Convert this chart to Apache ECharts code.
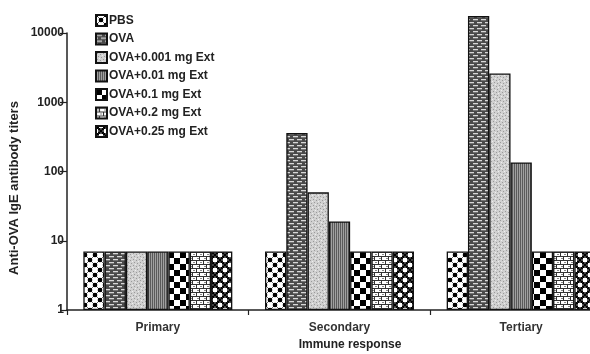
<!DOCTYPE html>
<html><head><meta charset="utf-8">
<script src="https://cdn.jsdelivr.net/npm/echarts@6/dist/echarts.min.js"></script>
<style>html,body{margin:0;padding:0;background:#fff}#c{width:590px;height:354px}</style>
</head><body><div id="c"></div>
<script>
var categories = ['Primary', 'Secondary', 'Tertiary'];
var seriesNames = ['PBS', 'OVA', 'OVA+0.001 mg Ext', 'OVA+0.01 mg Ext', 'OVA+0.1 mg Ext', 'OVA+0.2 mg Ext', 'OVA+0.25 mg Ext'];
var pbs = [7, 7, 7];
var ova = [7, 360, 17600];
var ext0001 = [7, 50, 2600];
var ext001 = [7, 19, 135];
var ext01 = [7, 7, 7];
var ext02 = [7, 7, 7];
var ext025 = [7, 7, 7];
var yTicks = [1, 10, 100, 1000, 10000];

function tile(w, h, draw) {
  var c = document.createElement('canvas'); c.width = w; c.height = h;
  var g = c.getContext('2d'); draw(g, w, h);
  return { image: c, repeat: 'repeat' };
}
var patterns = [
  tile(10, 10, function (g) { // PBS: dots with lattice
    g.fillStyle = '#fff'; g.fillRect(0, 0, 10, 10);
    g.strokeStyle = '#444'; g.lineWidth = 1;
    g.beginPath(); g.moveTo(0, 0); g.lineTo(10, 10); g.moveTo(10, 0); g.lineTo(0, 10); g.stroke();
    g.fillStyle = '#fff';
    [[5, 0], [0, 5], [10, 5], [5, 10]].forEach(function (p) { g.beginPath(); g.arc(p[0], p[1], 3, 0, 7); g.fill(); });
    g.fillStyle = '#000';
    [[0, 0], [10, 0], [0, 10], [10, 10], [5, 5]].forEach(function (p) { g.beginPath(); g.arc(p[0], p[1], 2.3, 0, 7); g.fill(); });
  }),
  tile(8, 6, function (g) { // OVA: bricks
    g.fillStyle = '#4a4a4a'; g.fillRect(0, 0, 8, 6);
    g.fillStyle = '#d8d8d8';
    g.fillRect(1, 1, 5, 1.3); g.fillRect(5, 4, 5, 1.3); g.fillRect(-3, 4, 5, 1.3);
  }),
  tile(6, 6, function (g) { // 0.001: light stipple
    g.fillStyle = '#d0d0d0'; g.fillRect(0, 0, 6, 6);
    g.fillStyle = '#9a9a9a';
    g.fillRect(1, 1, 1, 1); g.fillRect(4, 2, 1, 1); g.fillRect(2, 4, 1, 1); g.fillRect(5, 5, 1, 1);
    g.fillStyle = '#eee'; g.fillRect(3, 0, 1, 1); g.fillRect(0, 3, 1, 1);
  }),
  tile(4, 2, function (g) { // 0.01: vertical stripes
    g.fillStyle = '#a0a0a0'; g.fillRect(0, 0, 4, 2);
    g.fillStyle = '#5a5a5a'; g.fillRect(0, 0, 1, 2); g.fillRect(2, 0, 1, 2);
  }),
  tile(12, 12, function (g) { // 0.1: checkerboard
    g.fillStyle = '#fff'; g.fillRect(0, 0, 12, 12);
    g.fillStyle = '#000'; g.fillRect(0, 0, 6, 6); g.fillRect(6, 6, 6, 6);
  }),
  tile(7, 8, function (g) { // 0.2: grid of boxes
    g.fillStyle = '#fff'; g.fillRect(0, 0, 7, 8);
    g.fillStyle = '#333'; g.fillRect(0, 0, 7, 1); g.fillRect(0, 4, 7, 1);
    g.fillRect(3, 0, 1, 4); g.fillRect(0, 4, 1, 4);
    g.fillStyle = '#888'; g.fillRect(1, 2, 2, 1); g.fillRect(4, 6, 2, 1);
  }),
  tile(10, 10, function (g) { // 0.25: X lattice with circles
    g.fillStyle = '#fff'; g.fillRect(0, 0, 10, 10);
    g.strokeStyle = '#000'; g.lineWidth = 1.6;
    g.beginPath(); g.moveTo(0, 0); g.lineTo(10, 10); g.moveTo(10, 0); g.lineTo(0, 10); g.stroke();
    g.fillStyle = '#fff'; g.strokeStyle = '#000'; g.lineWidth = 1;
    [[5, 0], [0, 5], [10, 5], [5, 10]].forEach(function (p) { g.beginPath(); g.arc(p[0], p[1], 3, 0, 7); g.fill(); g.stroke(); });
  })
];
var allData = [pbs, ova, ext0001, ext001, ext01, ext02, ext025];
var font = '"Liberation Sans", Arial, sans-serif';

var chart = echarts.init(document.getElementById('c'));
chart.setOption({
  animation: false,
  backgroundColor: '#fff',
  grid: { left: 67, width: 545, top: 33, bottom: 44, containLabel: false, outerBoundsMode: 'none' },
  legend: {
    orient: 'vertical', left: 90, top: 9, itemWidth: 11, itemHeight: 11, itemGap: 5.5,
    icon: 'rect', data: seriesNames,
    textStyle: { fontFamily: font, fontWeight: 'bold', fontSize: 12, color: '#222', padding: [0, 0, 0, -3] }
  },
  xAxis: {
    type: 'category', data: categories,
    axisLine: { lineStyle: { color: '#222', width: 1.5 } },
    axisTick: { show: true, length: 5, inside: false, lineStyle: { color: '#222', width: 1.2 } },
    axisLabel: { fontFamily: font, fontWeight: 'bold', fontSize: 12, color: '#333', margin: 12 }
  },
  yAxis: {
    type: 'log', logBase: 10, min: yTicks[0], max: yTicks[yTicks.length - 1],
    axisLine: { show: true, lineStyle: { color: '#222', width: 1.5 } },
    axisTick: { show: true, length: 7, lineStyle: { color: '#222', width: 1.2 } },
    splitLine: { show: false },
    axisLabel: { fontFamily: font, fontWeight: 'bold', fontSize: 12, color: '#222', margin: 3,
      formatter: function (v) { return String(Math.round(v)); } }
  },
  graphic: [
    { type: 'text', x: 14, y: 188, rotation: Math.PI / 2,
      style: { text: 'Anti-OVA IgE antibody titers', fontFamily: font, fontWeight: 'bold', fontSize: 13, fill: '#222', textAlign: 'center', textVerticalAlign: 'middle' } },
    { type: 'text', x: 350, y: 345,
      style: { text: 'Immune response', fontFamily: font, fontWeight: 'bold', fontSize: 12, fill: '#222', textAlign: 'center', textVerticalAlign: 'middle' } }
  ],
  series: seriesNames.map(function (n, i) {
    return {
      name: n, type: 'bar', data: allData[i], clip: false,
      barGap: '0%', barCategoryGap: '18%',
      itemStyle: { color: patterns[i], borderColor: '#111', borderWidth: 1.3 }
    };
  })
});
</script></body></html>
